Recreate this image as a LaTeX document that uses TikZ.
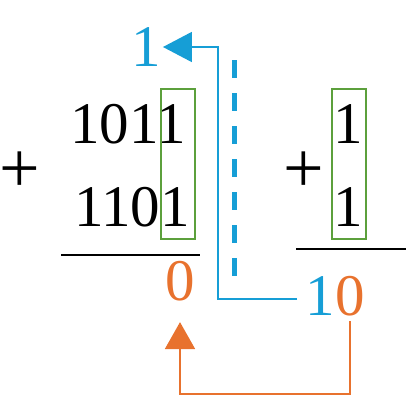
\documentclass[tikz,border=0pt]{standalone}
\usepackage{fontspec}
\setmainfont{Liberation Serif}
\usetikzlibrary{arrows.meta}
\definecolor{carryblue}{RGB}{22,158,214}
\definecolor{sumorange}{RGB}{232,114,46}
\definecolor{colgreen}{RGB}{92,160,60}
\begin{document}
\begin{tikzpicture}[x=1pt,y=-1pt,
        digit/.style={inner sep=0pt,font=\fontsize{59}{70}\selectfont},
        plussign/.style={inner sep=0pt,font=\fontsize{72}{84}\selectfont},
        colbox/.style={draw=colgreen,line width=1.8pt},
        sumline/.style={line width=1.8pt},
        carryline/.style={draw=carryblue,line width=1.8pt,-{Triangle[length=29pt,width=30pt]}},
        backline/.style={draw=sumorange,line width=2pt,-{Triangle[length=27pt,width=30pt]}},
        dashline/.style={draw=carryblue,line width=5pt,dash pattern=on 18pt off 15pt}]
        \useasboundingbox (0,0) rectangle (416,408);
        % left sum
        \node[plussign] (plusl) at (20,172) {+};
        \node[digit] (rowa) at (128,124) {1011};
        \node[digit] (rowb) at (132,207) {1101};
        \draw[colbox] (161,89) rectangle (195,239);
        \draw[sumline] (61,255) -- (200,255);
        \node[digit,text=sumorange] (zero) at (180,281) {0};
        \node[digit,text=carryblue] (carry) at (146,47) {1};
        % right sum
        \node[plussign] (plusr) at (304,172) {+};
        \node[digit] (bita) at (348,124) {1};
        \node[digit] (bitb) at (348,207) {1};
        \draw[colbox] (332,89) rectangle (366,239);
        \draw[sumline] (296,249) -- (406,249);
        \node[digit,text=carryblue] (tenone) at (320,296) {1};
        \node[digit,text=sumorange] (tenzero) at (350,296) {0};
        % dividing dashes
        \draw[dashline] (234.5,60) -- (234.5,281);
        % carry and result arrows
        \coordinate (bend) at (218,150);
        \coordinate (low) at (266,394);
        \draw[carryline] ([shift={(-8pt,-3pt)}]tenone.west) -| (bend) |- ([xshift=2pt]carry.east);
        \draw[backline] ([yshift=-5pt]tenzero.south) |- (low) -| ([yshift=-21pt]zero.south);
\end{tikzpicture}
\end{document}
